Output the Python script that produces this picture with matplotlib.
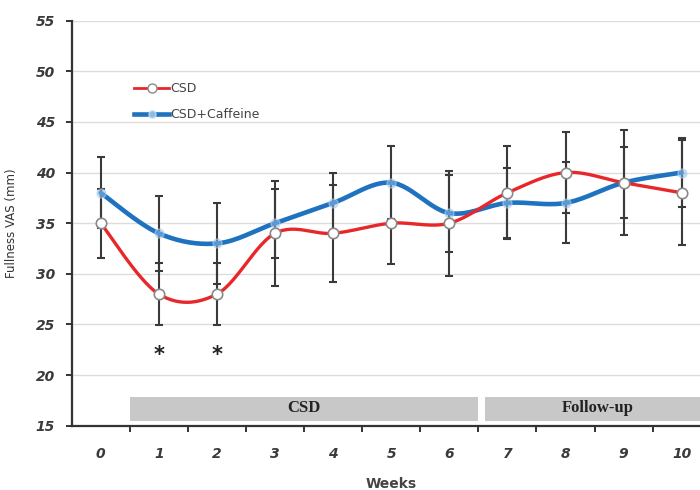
import numpy as np
import matplotlib
matplotlib.use("Agg")
import matplotlib.pyplot as plt
from matplotlib.lines import Line2D

weeks = [0, 1, 2, 3, 4, 5, 6, 7, 8, 9, 10]
week_labels = ["0", "1", "2", "3", "4", "5", "6", "7", "8", "9", "10"]
csd = [35, 28, 28, 34, 34, 35, 35, 38, 40, 39, 38]
csd_err = [3.4, 3.1, 3.1, 5.2, 4.8, 4.0, 5.2, 4.6, 4.0, 5.2, 5.2]
caf = [38, 34, 33, 35, 37, 39, 36, 37, 37, 39, 40]
caf_err = [3.5, 3.7, 4.0, 3.4, 3.0, 3.6, 3.8, 3.5, 4.0, 3.5, 3.4]
sig_weeks = [1, 2]
y_ticks = [15, 20, 25, 30, 35, 40, 45, 50, 55]


def smooth(x, y, n=30):
    # Catmull-Rom style smoothing like spreadsheet "smoothed line"
    x = np.asarray(x, float); y = np.asarray(y, float)
    P = np.column_stack([x, y])
    P = np.vstack([P[0], P, P[-1]])
    out = []
    for i in range(1, len(P) - 2):
        p0, p1, p2, p3 = P[i - 1], P[i], P[i + 1], P[i + 2]
        c1 = p1 + (p2 - p0) / 6.0
        c2 = p2 - (p3 - p1) / 6.0
        t = np.linspace(0, 1, n)[:, None]
        seg = ((1 - t) ** 3) * p1 + 3 * ((1 - t) ** 2) * t * c1 + 3 * (1 - t) * t ** 2 * c2 + t ** 3 * p2
        out.append(seg if i == 1 else seg[1:])
    s = np.vstack(out)
    return s[:, 0], s[:, 1]


fig = plt.figure(figsize=(7, 4.9), dpi=100)
ax = fig.add_axes([0.1024, 0.1312, 0.913, 0.8266])
ax.set_xlim(-0.5, 10.5)
ax.set_ylim(15, 55)

for yv in y_ticks[1:]:
    ax.axhline(yv, color="#dcdcdc", lw=1.0, zorder=0)

# phase bars
ax.fill_between([0.5, 6.5], 15.5, 17.85, color="#c8c8c8", lw=0, zorder=1)
ax.fill_between([6.62, 10.6], 15.5, 17.85, color="#c8c8c8", lw=0, zorder=1)
ax.text(3.5, 16.7, "CSD", ha="center", va="center", fontsize=12,
        fontweight="bold", family="Liberation Serif", color="#222222")
ax.text(8.55, 16.7, "Follow-up", ha="center", va="center", fontsize=12,
        fontweight="bold", family="Liberation Serif", color="#222222")

# error bars
ax.errorbar(weeks, csd, yerr=csd_err, fmt="none", ecolor="#3a3a3a",
            elinewidth=1.5, capsize=3, capthick=1.5, zorder=3)
ax.errorbar(weeks, caf, yerr=caf_err, fmt="none", ecolor="#3a3a3a",
            elinewidth=1.5, capsize=3, capthick=1.5, zorder=3)

sx, sy = smooth(weeks, caf)
ax.plot(sx, sy, color="#1f72c0", lw=3.3, zorder=4, solid_capstyle="round")
ax.plot(weeks, caf, ls="none", marker="o", ms=6.5, mfc="#8dbbe6",
        mec="#b5d4f0", mew=1, zorder=5, alpha=0.55)
sx, sy = smooth(weeks, csd)
ax.plot(sx, sy, color="#e8272b", lw=2.4, zorder=6)
ax.plot(weeks, csd, ls="none", marker="o", ms=7.5, mfc="white",
        mec="#8a8a8a", mew=1.2, zorder=7)

for w in sig_weeks:
    ax.text(w, 22.0, "*", ha="center", va="center", fontsize=15,
            fontweight="bold", color="#222222")

# legend (manual, no frame)
h1 = Line2D([], [], color="#e8272b", lw=2, marker="o", ms=6.5, mfc="white", mec="#8a8a8a")
h2 = Line2D([], [], color="#1f72c0", lw=3.3, marker="o", ms=5, mfc="#8dbbe6", mec="#b5d4f0")
leg = ax.legend([h1, h2], ["CSD", "CSD+Caffeine"], loc="upper left",
                bbox_to_anchor=(0.09, 0.86), frameon=False, fontsize=9,
                handlelength=2.8, handletextpad=0.05, labelspacing=1.0,
                borderaxespad=0)
for t in leg.get_texts():
    t.set_color("#444444")

# axes styling
for side in ["top", "right"]:
    ax.spines[side].set_visible(False)
for side in ["left", "bottom"]:
    ax.spines[side].set_color("#333333")
    ax.spines[side].set_linewidth(1.6)

ax.set_yticks(y_ticks)
ax.set_yticklabels([str(v) for v in y_ticks])
ax.set_xticks(weeks)
ax.set_xticklabels(week_labels)
ax.set_xticks([w + 0.5 for w in weeks[:-1]], minor=True)
ax.tick_params(axis="x", which="major", length=0, pad=15)
ax.tick_params(axis="x", which="minor", length=4, width=1.4, color="#333333", direction="out")
ax.tick_params(axis="y", length=4, width=1.4, color="#333333", direction="out", pad=8)
for lab in ax.get_xticklabels() + ax.get_yticklabels():
    lab.set_fontweight("bold")
    lab.set_fontstyle("italic")
    lab.set_fontsize(10)
    lab.set_color("#3a3a3a")

ax.set_xlabel("Weeks", fontsize=10, fontweight="bold", color="#444444", labelpad=12)
ax.set_ylabel("Fullness VAS (mm)", fontsize=8.5, color="#333333", labelpad=13)

fig.savefig("out.png", dpi=100)
